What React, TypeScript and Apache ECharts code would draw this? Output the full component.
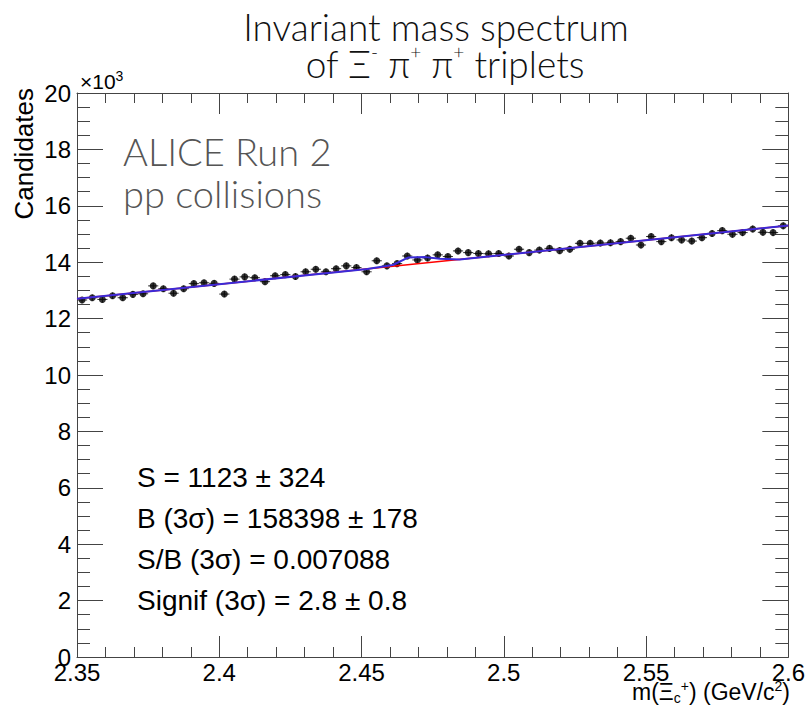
import React, { useEffect, useRef } from "react";
import * as echarts from "echarts";

// Histogram binning (x range of the plot)
const xMin = 2.35;
const xMax = 2.6;
const nBins = 70;

// Bin contents (candidates per bin)
const counts = [
  12660, 12740, 12680, 12810, 12740, 12860, 12880, 13160, 13060, 12900,
  13060, 13240, 13270, 13250, 12870, 13400, 13480, 13450, 13310, 13520,
  13560, 13490, 13660, 13750, 13660, 13770, 13870, 13810, 13660, 14050,
  13870, 13950, 14220, 14080, 14150, 14260, 14200, 14400, 14340, 14310,
  14300, 14310, 14220, 14460, 14340, 14430, 14490, 14410, 14460, 14670,
  14670, 14680, 14690, 14730, 14850, 14610, 14910, 14730, 14870, 14790,
  14750, 14870, 15020, 15120, 14990, 15050, 15180, 15060, 15050, 15290,
];

// Background fit (red line)
const bkgX = [2.35, 2.6];
const bkgY = [12700, 15300];

// Total fit (blue line) vertices
const totX = [2.35, 2.452, 2.461, 2.4665, 2.4725, 2.4775, 2.4845, 2.6];
const totY = [12700, 13760, 13900, 14170, 14180, 14120, 14099, 15300];

// Axis scales
const yMin = 0;
const yMax = 20000;
const yStep = 2000;
const xStep = 0.05;

const statLines = [
  "S = 1123 ± 324",
  "B (3σ) = 158398 ± 178",
  "S/B (3σ) = 0.007088",
  "Signif (3σ) = 2.8 ± 0.8",
];

const AX = "#444";
const SANS = "'Liberation Sans', Arial, Helvetica, sans-serif";
const LATO = "Lato, 'Noto Sans', sans-serif";

export default function App() {
  const ref = useRef<HTMLDivElement>(null);

  useEffect(() => {
    if (!ref.current) return;
    const chart = echarts.init(ref.current, null, { renderer: "svg" });
    const binW = (xMax - xMin) / nBins;
    const points = counts.map((c, i) => [xMin + (i + 0.5) * binW, c, Math.sqrt(c)]);

    const xAxisBase = {
      type: "value" as const,
      min: xMin,
      max: xMax,
      interval: xStep,
      splitLine: { show: false },
      axisLine: { show: true, onZero: false, lineStyle: { color: AX, width: 1 } },
      axisTick: { show: true, inside: true, length: 21, lineStyle: { color: AX } },
      minorTick: { show: true, splitNumber: 5, length: 10, lineStyle: { color: AX } },
    };
    const yAxisBase = {
      type: "value" as const,
      min: yMin,
      max: yMax,
      interval: yStep,
      splitLine: { show: false },
      axisLine: { show: true, onZero: false, lineStyle: { color: AX, width: 1 } },
      axisTick: { show: true, inside: true, length: 26, lineStyle: { color: AX } },
      minorTick: { show: true, splitNumber: 4, length: 13, lineStyle: { color: AX } },
    };

    const option: any = {
      animation: false,
      backgroundColor: "#ffffff",
      grid: { left: 77, right: 19, top: 93, bottom: 52, containLabel: false },
      xAxis: [
        {
          ...xAxisBase,
          position: "bottom",
          axisLabel: {
            show: true,
            fontFamily: SANS,
            fontSize: 24,
            color: "#000",
            margin: 3,
            formatter: (v: number) => String(parseFloat(v.toFixed(2))),
          },
        },
        { ...xAxisBase, position: "top", axisLabel: { show: false } },
      ],
      yAxis: [
        {
          ...yAxisBase,
          position: "left",
          axisLabel: {
            show: true,
            fontFamily: SANS,
            fontSize: 24,
            color: "#000",
            margin: 6,
            formatter: (v: number) => String(Math.round(v / 1000)),
          },
        },
        { ...yAxisBase, position: "right", axisLabel: { show: false } },
      ],
      series: [
        {
          type: "custom",
          name: "errors",
          xAxisIndex: 0,
          yAxisIndex: 0,
          z: 2,
          data: points,
          renderItem: (params: any, api: any) => {
            const x = api.value(0);
            const y = api.value(1);
            const e = api.value(2);
            const p = api.coord([x, y]);
            const half = api.size([binW, 0])[0] / 2;
            const ey = api.size([0, e])[1];
            const st = { stroke: "#333", lineWidth: 1 };
            return {
              type: "group",
              children: [
                { type: "line", shape: { x1: p[0] - half, y1: p[1], x2: p[0] + half, y2: p[1] }, style: st },
                { type: "line", shape: { x1: p[0], y1: p[1] - ey, x2: p[0], y2: p[1] + ey }, style: st },
              ],
            };
          },
        },
        {
          type: "scatter",
          name: "data",
          xAxisIndex: 0,
          yAxisIndex: 0,
          z: 3,
          symbol: "circle",
          symbolSize: 7,
          itemStyle: { color: "#000" },
          data: points.map((p) => [p[0], p[1]]),
        },
        {
          type: "line",
          name: "background",
          z: 4,
          symbol: "none",
          lineStyle: { color: "#ff0000", width: 1.5 },
          data: bkgX.map((x, i) => [x, bkgY[i]]),
        },
        {
          type: "line",
          name: "total",
          z: 5,
          symbol: "none",
          lineStyle: { color: "#3a2ad8", width: 2 },
          data: totX.map((x, i) => [x, totY[i]]),
        },
      ],
      graphic: [
        {
          type: "text",
          x: 436,
          y: 26,
          style: {
            text: "Invariant mass spectrum",
            fontFamily: LATO,
            fontWeight: 300,
            fontSize: 37,
            fill: "#111",
            align: "center",
            verticalAlign: "middle",
          },
        },
        {
          type: "text",
          x: 445,
          y: 63,
          style: {
            text: "of Ξ{sup|-} π{sup|+} π{sup|+} triplets",
            fontFamily: LATO,
            fontWeight: 300,
            fontSize: 37,
            lineHeight: 42,
            fill: "#111",
            align: "center",
            verticalAlign: "middle",
            rich: {
              sup: { fontFamily: LATO, fontWeight: 300, fontSize: 19, lineHeight: 19, verticalAlign: "top", fill: "#111" },
            },
          },
        },
        {
          type: "text",
          x: 123,
          y: 151,
          style: {
            text: "ALICE Run 2",
            fontFamily: LATO,
            fontWeight: 300,
            fontSize: 38,
            fill: "#555",
            align: "left",
            verticalAlign: "middle",
          },
        },
        {
          type: "text",
          x: 123,
          y: 193,
          style: {
            text: "pp collisions",
            fontFamily: LATO,
            fontWeight: 300,
            fontSize: 38,
            fill: "#555",
            align: "left",
            verticalAlign: "middle",
          },
        },
        ...statLines.map((t, i) => ({
          type: "text",
          x: 137,
          y: 477 + i * 41,
          style: {
            text: t,
            fontFamily: SANS,
            fontSize: 28,
            fill: "#000",
            align: "left",
            verticalAlign: "middle",
          },
        })),
        {
          type: "text",
          x: 80,
          y: 81,
          style: {
            text: "×10{sup|3}",
            fontFamily: SANS,
            fontSize: 21,
            lineHeight: 24,
            fill: "#000",
            align: "left",
            verticalAlign: "middle",
            rich: { sup: { fontFamily: SANS, fontSize: 14, lineHeight: 14, verticalAlign: "top", fill: "#000" } },
          },
        },
        {
          type: "text",
          x: 11,
          y: 88,
          rotation: Math.PI / 2,
          style: {
            text: "Candidates",
            fontFamily: SANS,
            fontSize: 26,
            fill: "#000",
            align: "right",
            verticalAlign: "top",
          },
        },
        {
          type: "text",
          x: 790,
          y: 692,
          style: {
            text: "m(Ξ{sub|c}{sup|+}) (GeV/c{sup|2})",
            fontFamily: SANS,
            fontSize: 23,
            lineHeight: 26,
            fill: "#000",
            align: "right",
            verticalAlign: "middle",
            rich: {
              sub: { fontFamily: SANS, fontSize: 14, lineHeight: 14, verticalAlign: "bottom", fill: "#000" },
              sup: { fontFamily: SANS, fontSize: 14, lineHeight: 14, verticalAlign: "top", fill: "#000" },
            },
          },
        },
      ],
    };

    chart.setOption(option);
    return () => chart.dispose();
  }, []);

  return (
    <div
      ref={ref}
      style={{ position: "absolute", left: 0, top: 0, width: 808, height: 709, background: "#fff" }}
    />
  );
}
